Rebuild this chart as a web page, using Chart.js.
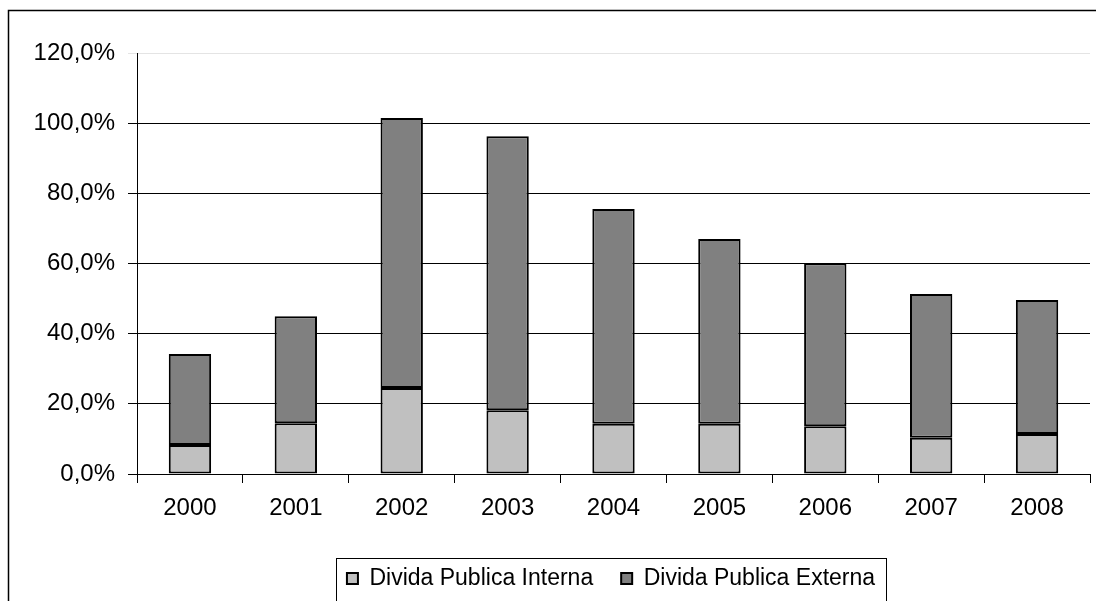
<!DOCTYPE html>
<html>
<head>
<meta charset="utf-8">
<script src="https://cdn.jsdelivr.net/npm/chart.js@4/dist/chart.umd.min.js"></script>
<style>
  html, body { margin: 0; padding: 0; background: #fff; }
  canvas { display: block; }
</style>
</head>
<body>
<canvas id="c" width="1096" height="601"></canvas>
<script>
const categories = ['2000', '2001', '2002', '2003', '2004', '2005', '2006', '2007', '2008'];
const interna = [8.3, 14.5, 24.5, 18.2, 14.3, 14.3, 13.6, 10.3, 11.4];
const externa = [25.9, 30.5, 77.0, 78.1, 61.2, 52.7, 46.5, 41.0, 38.2];
const seriesNames = ['Divida Publica Interna', 'Divida Publica Externa'];
const yMin = 0, yMax = 120, yStep = 20;

Chart.defaults.font.family = '"Liberation Sans", Arial, sans-serif';
Chart.defaults.font.size = 24;
Chart.defaults.color = '#000';

const framePlugin = {
  id: 'frame',
  afterLayout(chart) {
    const lg = chart.legend;
    lg.left += 66;
    lg.right += 66;
  },
  beforeDraw(chart) {
    const ctx = chart.ctx;
    ctx.save();
    ctx.fillStyle = '#fff';
    ctx.fillRect(0, 0, chart.width, chart.height);
    ctx.restore();
  },
  afterDraw(chart) {
    const ctx = chart.ctx;
    ctx.save();
    ctx.strokeStyle = '#000';
    ctx.lineWidth = 1.5;
    ctx.beginPath();
    ctx.moveTo(8.5, 601);
    ctx.lineTo(8.5, 10.5);
    ctx.lineTo(1096, 10.5);
    ctx.stroke();
    const hb = chart.legend.legendHitBoxes;
    if (hb && hb.length) {
      const last = hb[hb.length - 1];
      const l = hb[0].left - 11;
      const r = last.left + last.width + 11;
      const cy = hb[0].top + hb[0].height / 2;
      ctx.lineWidth = 1;
      ctx.strokeRect(Math.round(l) + 0.5, Math.round(cy - 21) + 0.5, Math.round(r - l), 43);
    }
    ctx.restore();
  }
};

new Chart(document.getElementById('c'), {
  type: 'bar',
  data: {
    labels: categories,
    datasets: [
      {
        label: seriesNames[0],
        data: interna,
        backgroundColor: '#C0C0C0',
        borderColor: '#000',
        borderWidth: 2,
        borderSkipped: false
      },
      {
        label: seriesNames[1],
        data: externa,
        backgroundColor: '#808080',
        borderColor: '#000',
        borderWidth: 2,
        borderSkipped: false
      }
    ]
  },
  options: {
    responsive: false,
    animation: false,
    devicePixelRatio: 1,
    layout: { padding: { left: 0, top: 53, right: 6, bottom: 1 } },
    datasets: { bar: { barPercentage: 0.4, categoryPercentage: 1.0 } },
    plugins: {
      tooltip: { enabled: false },
      legend: {
        position: 'bottom',
        align: 'center',
        labels: {
          boxWidth: 11,
          boxHeight: 11,
          padding: 28,
          color: '#000',
          font: { size: 23 }
        }
      }
    },
    scales: {
      x: {
        stacked: true,
        offset: true,
        afterFit(scale) { scale.height = 65; },
        grid: {
          offset: true,
          drawOnChartArea: false,
          drawTicks: true,
          tickLength: 9,
          color: '#000',
          lineWidth: 1
        },
        border: { display: true, color: '#000', width: 1 },
        ticks: { padding: 11, color: '#000', font: { size: 24 }, maxRotation: 0 }
      },
      y: {
        stacked: true,
        min: yMin,
        max: yMax,
        afterFit(scale) { scale.width = 137; },
        grid: {
          drawTicks: true,
          tickLength: 9,
          color: (c) => (c.tick && c.tick.value === yMax ? '#e4e4e4' : '#000'),
          lineWidth: 1
        },
        border: { display: true, color: '#000', width: 1 },
        ticks: {
          stepSize: yStep,
          padding: 13,
          color: '#000',
          font: { size: 24 },
          callback: (v) => v.toFixed(1).replace('.', ',') + '%'
        }
      }
    }
  },
  plugins: [framePlugin]
});
</script>
</body>
</html>
